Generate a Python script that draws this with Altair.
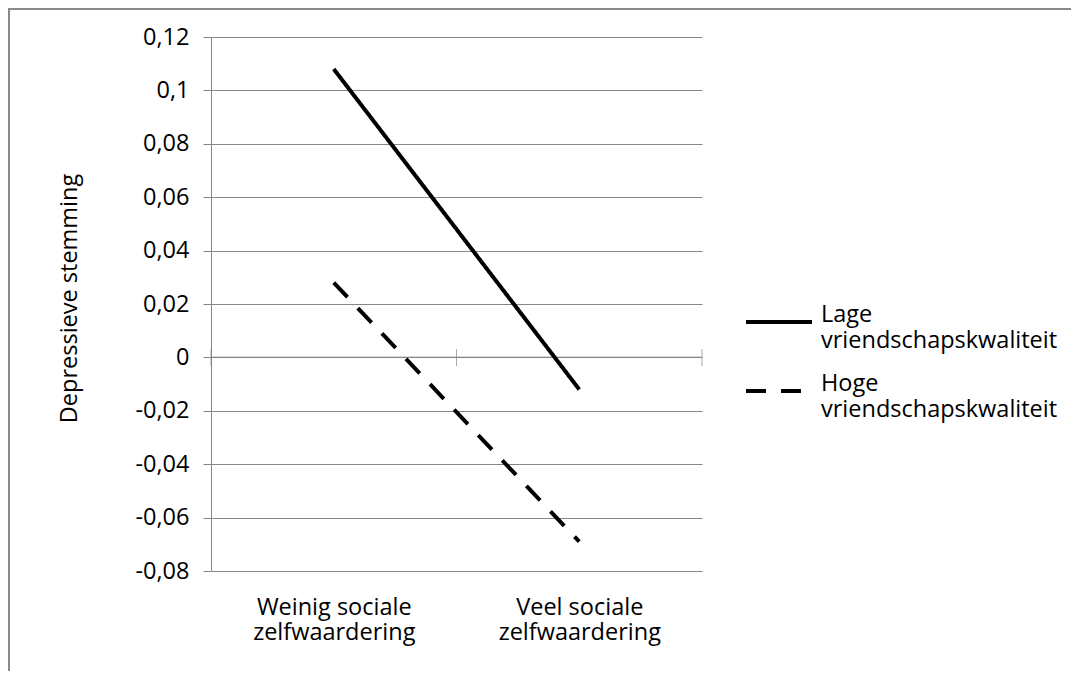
import altair as alt
import pandas as pd

categories = ["Weinig sociale\nzelfwaardering", "Veel sociale\nzelfwaardering"]
series = ["Lage\nvriendschapskwaliteit", "Hoge\nvriendschapskwaliteit"]
lage_values = [0.108, -0.012]
hoge_values = [0.028, -0.069]
y_ticks = [-0.08, -0.06, -0.04, -0.02, 0, 0.02, 0.04, 0.06, 0.08, 0.1, 0.12]
y_title = "Depressieve stemming"

FONT = "Open Sans"
GRID = "#868686"
FS = 23.5

rows = []
for i, c in enumerate(categories):
    rows.append({"pos": i + 0.5, "cat": c, "series": series[0], "value": lage_values[i]})
    rows.append({"pos": i + 0.5, "cat": c, "series": series[1], "value": hoge_values[i]})
df = pd.DataFrame(rows)
bounds = pd.DataFrame({"b": list(range(len(categories) + 1))})

lab_arr = "[" + ",".join("[" + ",".join('"%s"' % p for p in c.split("\n")) + "]" for c in categories) + "]"
x_label_expr = lab_arr + "[floor(datum.value)]"

x_scale = alt.Scale(domain=[0, len(categories)], nice=False, zero=False)
y_scale = alt.Scale(domain=[-0.08, 0.12], nice=False)

lines = alt.Chart(df).mark_line(strokeWidth=4, color="black", strokeCap="butt").encode(
    x=alt.X("pos:Q", scale=x_scale,
            axis=alt.Axis(values=[i + 0.5 for i in range(len(categories))], labelExpr=x_label_expr,
                          domain=False, ticks=False, grid=False, title=None,
                          labelFont=FONT, labelFontSize=FS, labelColor="black",
                          labelBaseline="top", labelLineHeight=25, labelPadding=24)),
    y=alt.Y("value:Q", scale=y_scale,
            axis=alt.Axis(values=y_ticks, grid=True, gridColor=GRID, domainColor=GRID, tickColor=GRID,
                          tickSize=8, domainWidth=1, gridWidth=1, tickWidth=1,
                          labelExpr="replace(toString(round(datum.value*100)/100), '.', ',')",
                          labelFont=FONT, labelFontSize=FS, labelColor="black", labelPadding=14,
                          title=y_title, titleFont=FONT, titleFontSize=23.5, titleFontWeight="normal",
                          titleColor="black", titleAngle=-90, titleX=-135, titleY=261,
                          titleAlign="center", titleBaseline="alphabetic")),
    strokeDash=alt.StrokeDash("series:N", sort=series,
                              scale=alt.Scale(domain=series, range=[[1, 0], [20, 15]]),
                              legend=alt.Legend(title=None, orient="none", legendX=536, legendY=246,
                                                symbolType="M-1.1,0.233L1.1,0.233", symbolSize=3600,
                                                symbolStrokeWidth=4, symbolStrokeColor="black",
                                                labelFont=FONT, labelFontSize=FS, labelColor="black",
                                                labelOffset=10, rowPadding=0, padding=0,
                                                labelExpr="split(datum.label, '\\n')", labelLimit=400)),
)

zero_rule = alt.Chart(bounds).mark_rule(color=GRID, strokeWidth=1).encode(
    x=alt.datum(0, scale=x_scale), x2=alt.datum(len(categories)), y=alt.datum(0, scale=y_scale)
)

cross_ticks = alt.Chart(bounds).mark_tick(color=GRID, thickness=1, size=17, orient="vertical").encode(
    x=alt.X("b:Q", scale=x_scale), y=alt.datum(0, scale=y_scale)
)

frame_left = alt.Chart(bounds).mark_rule(color="#898989", strokeWidth=2).encode(
    x=alt.value(-202), y=alt.value(-28), y2=alt.value(660)
)
frame_top = alt.Chart(bounds).mark_rule(color="#898989", strokeWidth=1.5).encode(
    x=alt.value(-203), x2=alt.value(880), y=alt.value(-28)
)

chart = alt.layer(frame_left, frame_top, zero_rule, cross_ticks, lines).properties(
    width=491, height=534,
    padding={"left": 203, "top": 29, "right": 369, "bottom": 100},
    autosize=alt.AutoSizeParams(type="none"),
    background="white",
).configure_view(stroke=None)

chart.save("out.html", embed_options={"renderer": "svg", "actions": False})
